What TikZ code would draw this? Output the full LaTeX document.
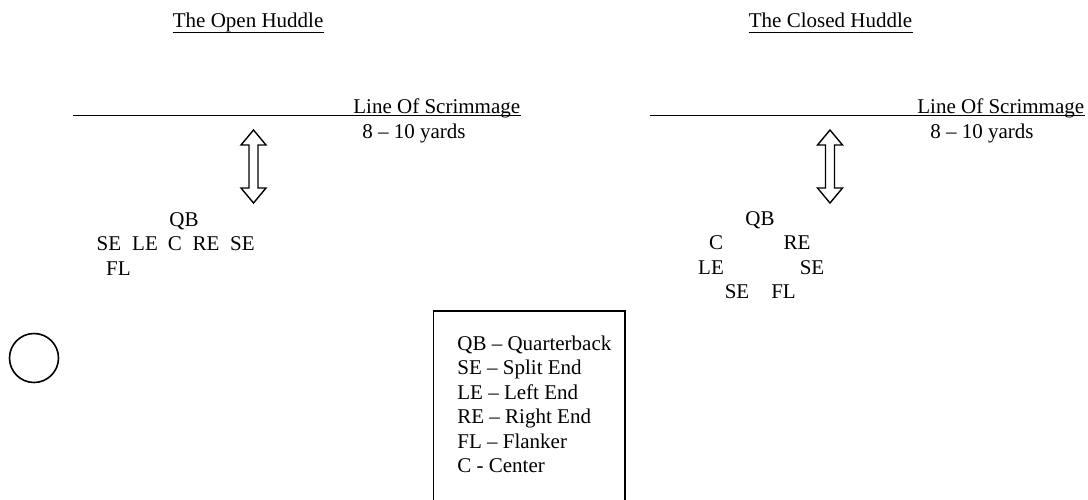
\documentclass[tikz,border=0pt]{standalone}
\usepackage{fontspec}
\setmainfont{Liberation Serif}
\usepackage{tikz}

\tikzset{
  lbl/.style={inner sep=0pt, font=\fontsize{10.5pt}{12.25pt}\selectfont},
  player/.style={lbl, anchor=base},
  legendline/.style={lbl, anchor=base west},
  huddlearrow/.pic={
    \draw[line width=0.7pt, line join=miter]
      (0,-36.5) -- (12.5,-21.5) -- (4.5,-21.5) -- (4.5,21.5) -- (12.5,21.5)
      -- (0,36.5) -- (-12.5,21.5) -- (-4.5,21.5) -- (-4.5,-21.5) -- (-12.5,-21.5) -- cycle;
  }
}

\begin{document}
\begin{tikzpicture}[x=0.5pt, y=-0.5pt]
  \useasboundingbox (0,0) rectangle (1088,499);

  % titles
  \node[lbl, anchor=base west] (opentitle) at (172.5,27) {The Open Huddle};
  \node[lbl, anchor=base west] (closedtitle) at (748.5,27) {The Closed Huddle};
  \draw[line width=0.5pt] ([yshift=-2.5pt]opentitle.base west) -- ([yshift=-2.5pt]opentitle.base east);
  \draw[line width=0.5pt] ([yshift=-2.5pt]closedtitle.base west) -- ([yshift=-2.5pt]closedtitle.base east);

  % line of scrimmage
  \node[lbl, anchor=base west] (openlos) at (353,113) {Line Of Scrimmage};
  \node[lbl, anchor=base west] (closedlos) at (917,113) {Line Of Scrimmage};
  \coordinate (openlosstart) at (73,115);
  \coordinate (closedlosstart) at (650,115);
  \draw[line width=0.5pt] (openlosstart) -- ([yshift=-1pt]openlos.base east);
  \draw[line width=0.5pt] (closedlosstart) -- ([yshift=-1pt]closedlos.base east);
  \node[lbl, anchor=base west] (openyds) at (362,138) {8 – 10 yards};
  \node[lbl, anchor=base west] (closedyds) at (930,138) {8 – 10 yards};

  % distance arrows
  \pic at (253.5,166.5) {huddlearrow};
  \pic at (830,166.5) {huddlearrow};

  % open huddle
  \foreach \nm/\txt/\x/\y in {oqb/QB/184/226, ose1/SE/109/250.5, ole/LE/145/250.5,
      oc/C/175/250.5, ore/RE/206/250.5, ose2/SE/242.5/250.5, ofl/FL/118.5/275}
    \node[player] (\nm) at (\x,\y) {\txt};

  % closed huddle
  \foreach \nm/\txt/\x/\y in {cqb/QB/760/225, cc/C/716/249.5, cre/RE/797/249.5,
      cle/LE/711/274, cse1/SE/812/274, cse2/SE/737/298.5, cfl/FL/783.5/298.5}
    \node[player] (\nm) at (\x,\y) {\txt};

  % circle
  \draw[line width=0.8pt] (34,358) circle (24.5);

  % legend
  \draw[line width=0.8pt] (433.5,503) -- (433.5,311) -- (625,311) -- (625,503);
  \foreach \i/\txt in {0/{QB – Quarterback}, 1/{SE – Split End}, 2/{LE – Left End},
      3/{RE – Right End}, 4/{FL – Flanker}, 5/{C - Center}}
    \node[legendline] (legend\i) at (457,350+24.5*\i) {\txt};
\end{tikzpicture}
\end{document}
